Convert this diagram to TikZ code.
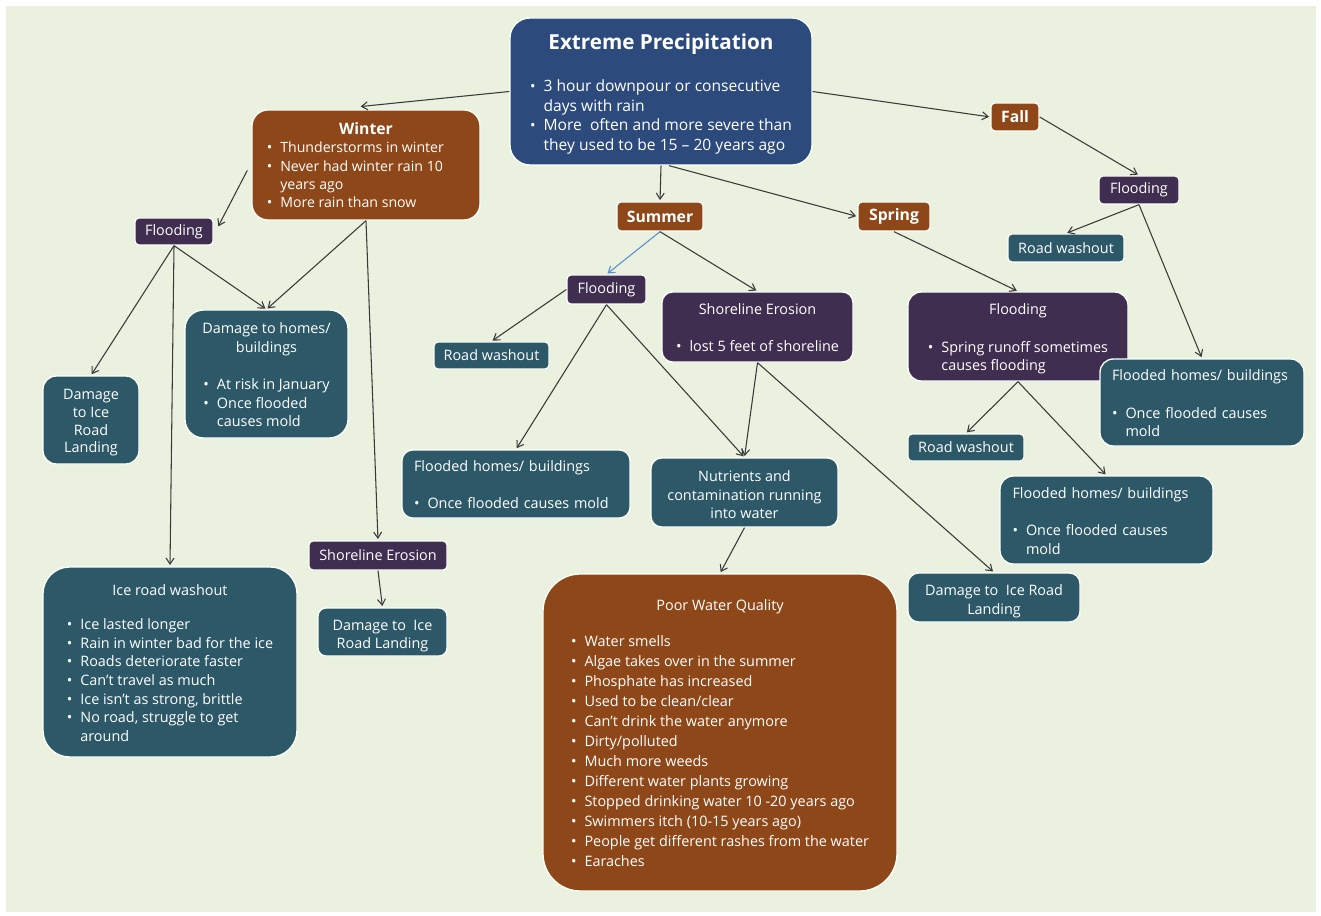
\documentclass[tikz,border=0pt]{standalone}
\usepackage{fontspec}
\setmainfont{Open Sans}
\usetikzlibrary{arrows.meta,calc}
\definecolor{bg}{HTML}{EAF1DF}
\definecolor{cblue}{HTML}{2D4A7C}
\definecolor{cbrown}{HTML}{8E4718}
\definecolor{cpurple}{HTML}{402E50}
\definecolor{cteal}{HTML}{2C5867}
\definecolor{carrow}{HTML}{3A3A3A}
\definecolor{cbluearrow}{HTML}{5B8BD0}
\newcommand\bul{{\fontsize{11}{8}\selectfont •}}
\newcommand\blist[1]{\begin{tabular}[t]{@{}l@{\hspace{6pt}}l@{}}#1\end{tabular}}
\newcommand\tp{\rule{0pt}{13.5pt}}
\newcommand\tps{\rule{0pt}{12pt}}
\begin{document}
\begin{tikzpicture}[x=0.75pt,y=-0.75pt,
  every node/.style={inner sep=0pt, text=white, font=\fontsize{10.8}{13.9}\selectfont, align=center},
  bx/.style={draw=white!92!bg, line width=1pt, rounded corners=#1},
  bx/.default=3pt,
  lbl/.style={bx, fill=cbrown, font=\fontsize{11.8}{13}\selectfont\bfseries},
  arr/.style={draw=carrow, line width=0.8pt, -{Straight Barb[length=4.5pt,width=6pt]}, shorten >=1pt},
  barr/.style={arr, draw=cbluearrow}
]
\useasboundingbox (0,0) rectangle (1321,916);
\fill[white] (0,0) rectangle (1321,916);
\fill[bg] (6,6) rectangle (1316,912);

% top level
\node[bx=15pt, fill=cblue, minimum width=226.5pt, minimum height=110.25pt, font=\fontsize{11.7}{14.8}\selectfont] (main) at (661,91.5)
 {\rule{0pt}{17.5pt}{\fontsize{15.5}{17}\selectfont\bfseries Extreme Precipitation}\\[16.5pt]\blist{\bul & 3 hour downpour or consecutive\\ & days with rain\\ \bul & More~ often and more severe than\\ & they used to be 15 -- 20 years ago}};

\node[bx=12pt, fill=cbrown, minimum width=171pt, minimum height=82.5pt, font=\fontsize{10.6}{13.7}\selectfont] (winter) at (366,165)
 {\tp{\fontsize{11.8}{13.7}\selectfont\bfseries Winter}\\\blist{\bul & Thunderstorms in winter\\ \bul & Never had winter rain 10\\ & years ago\\ \bul & More rain than snow}\rule{16pt}{0pt}};

\node[lbl, minimum width=36pt, minimum height=21pt] (fall) at (1015,117) {Fall};
\node[lbl, minimum width=64.5pt, minimum height=21.75pt] (summer) at (660,216.5) {Summer};
\node[lbl, minimum width=54pt, minimum height=21.75pt] (spring) at (894,216.5) {Spring};

% flooding labels
\node[bx, fill=cpurple, minimum width=58.5pt, minimum height=20.25pt] (floodL) at (174,231.5) {Flooding};
\node[bx, fill=cpurple, minimum width=59.25pt, minimum height=21.75pt] (floodS) at (606.5,289.5) {Flooding};
\node[bx, fill=cpurple, minimum width=60pt, minimum height=21pt] (floodF) at (1139,190) {Flooding};

\node[bx=8pt, fill=cpurple, minimum width=143.25pt, minimum height=52.5pt] (shoreS) at (757.5,327)
 {\tp Shoreline Erosion\\[14pt]\blist{\bul & lost 5 feet of shoreline}};
\node[bx=10pt, fill=cpurple, minimum width=165pt, minimum height=66.75pt] (floodSp) at (1018,336.5)
 {\tp Flooding\\[14pt]\blist{\bul & Spring runoff sometimes\\ & causes flooding}};

% road washouts
\node[bx, fill=cteal, minimum width=86.25pt, minimum height=20.25pt] (rwS) at (491.5,355.5) {Road washout};
\node[bx, fill=cteal, minimum width=87pt, minimum height=21pt] (rwF) at (1066,248) {Road washout};
\node[bx, fill=cteal, minimum width=87pt, minimum height=20.25pt] (rwSp) at (966,447.5) {Road washout};

% winter side
\node[bx=10pt, fill=cteal, minimum width=72pt, minimum height=66pt, font=\fontsize{10.8}{13.3}\selectfont] (dmgL) at (91,420) {\tps Damage\\to Ice\\Road\\Landing};
\node[bx=14pt, fill=cteal, minimum width=122.25pt, minimum height=96pt] (homes) at (266.5,374)
 {\tp Damage to homes/\\buildings\\[14pt]\blist{\bul & At risk in January\\ \bul & Once flooded\\ & causes mold}};
\node[bx=20pt, fill=cteal, minimum width=190.5pt, minimum height=142.5pt] (iceW) at (170,662)
 {\tp Ice road washout\\[12pt]\blist{\bul & Ice lasted longer\\ \bul & Rain in winter bad for the ice\\ \bul & Roads deteriorate faster\\ \bul & Can't travel as much\\ \bul & Ice isn't as strong, brittle\\ \bul & No road, struggle to get\\ & around}};
\node[bx, fill=cpurple, minimum width=103.5pt, minimum height=21.75pt] (shoreW) at (378,555.5) {Shoreline Erosion};
\node[bx=6pt, fill=cteal, minimum width=96.75pt, minimum height=36pt] (dmgW) at (382.5,632) {\tp Damage to~ Ice\\Road Landing};

% summer side
\node[bx=8pt, fill=cteal, minimum width=171pt, minimum height=51pt, text width=153pt, align=left] (homesS) at (516,484)
 {\tp Flooded homes/ buildings\\[14pt]\blist{\bul & Once flooded causes mold}};
\node[bx=8pt, fill=cteal, minimum width=140.25pt, minimum height=51.75pt] (nutr) at (744.5,492.5)
 {\tps Nutrients and\\contamination running\\into water};
\node[bx=28pt, fill=cbrown, minimum width=265.5pt, minimum height=237.75pt, font=\fontsize{10.8}{15}\selectfont] (poor) at (720,732.5)
 {\tp Poor Water Quality\\[12pt]\blist{\bul & Water smells\\ \bul & Algae takes over in the summer\\ \bul & Phosphate has increased\\ \bul & Used to be clean/clear\\ \bul & Can't drink the water anymore\\ \bul & Dirty/polluted\\ \bul & Much more weeds\\ \bul & Different water plants growing\\ \bul & Stopped drinking water 10 -20 years ago\\ \bul & Swimmers itch (10-15 years ago)\\ \bul & People get different rashes from the water\\ \bul & Earaches}};
\node[bx=8pt, fill=cteal, minimum width=129pt, minimum height=36.75pt] (dmgR) at (994,597.5) {\tp Damage to~ Ice Road\\Landing};

% fall / spring side
\node[bx=10pt, fill=cteal, minimum width=153pt, minimum height=65.25pt, text width=135pt, align=left] (homesF) at (1202,402.5)
 {\tp Flooded homes/ buildings\\[14pt]\blist{\bul & Once flooded causes\\ & mold}};
\node[bx=10pt, fill=cteal, minimum width=159.75pt, minimum height=66pt, text width=141pt, align=left] (homesSp) at (1106.5,520)
 {\tp Flooded homes/ buildings\\[14pt]\blist{\bul & Once flooded causes\\ & mold}};

% connectors
\draw[arr] (main.west) -- ([xshift=-5pt,yshift=2pt]winter.north);
\draw[arr] (main.east) -- (fall.west);
\draw[arr] (main.south) -- (summer.north);
\draw[arr] ([xshift=6pt]main.south) -- (spring.west);

\draw[arr] ([xshift=-3pt,yshift=-4pt]winter.west) -- ([xshift=3pt,yshift=3pt]floodL.east);
\draw[arr] (winter.south) -- (homes.north);
\draw[arr] (winter.south) -- (shoreW.north);
\draw[arr] (floodL.south) -- (dmgL.north);
\draw[arr] (floodL.south) -- (homes.north);
\draw[arr] (floodL.south) -- (iceW.north);
\draw[arr] (shoreW.south) -- (dmgW.north);

\draw[barr] (summer.south) -- (floodS.north);
\draw[arr] (summer.south) -- (shoreS.north);
\draw[arr] (floodS.west) -- (rwS.north);
\draw[arr] (floodS.south) -- (homesS.north);
\draw[arr] (floodS.south) -- (nutr.north);
\draw[arr] (shoreS.south) -- (nutr.north);
\draw[arr] (shoreS.south) -- (dmgR.north);
\draw[arr] (nutr.south) -- (poor.north);

\draw[arr] (spring.south) -- (floodSp.north);
\draw[arr] (fall.east) -- (floodF.north);
\draw[arr] (floodF.south) -- (rwF.north);
\draw[arr] (floodF.south) -- (homesF.north);
\draw[arr] (floodSp.south) -- (rwSp.north);
\draw[arr] (floodSp.south) -- (homesSp.north);
\end{tikzpicture}
\end{document}
